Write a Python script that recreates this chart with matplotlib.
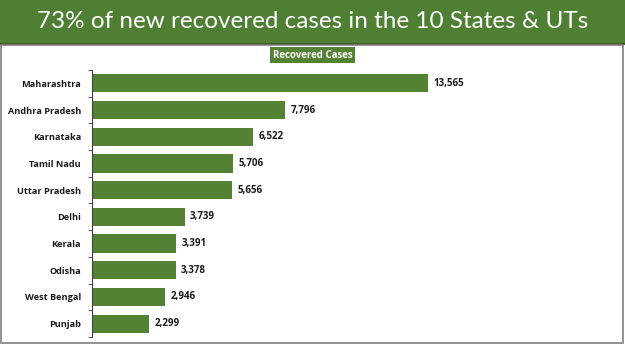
import numpy as np
import matplotlib.pyplot as plt
from matplotlib.patches import Rectangle

states = ["Maharashtra", "Andhra Pradesh", "Karnataka", "Tamil Nadu", "Uttar Pradesh",
          "Delhi", "Kerala", "Odisha", "West Bengal", "Punjab"]
recovered = [13565, 7796, 6522, 5706, 5656, 3739, 3391, 3378, 2946, 2299]

title = "73% of new recovered cases in the 10 States & UTs"
series_name = "Recovered Cases"

green = "#548235"
W, H = 625, 351
lbl_font = "Open Sans"

fig = plt.figure(figsize=(W / 100, H / 100), dpi=100)
fig.patch.set_facecolor("white")

# title banner
fig.patches.append(Rectangle((0, 1 - 43 / H), 1, 43 / H, transform=fig.transFigure,
                             facecolor="#4f7f32", edgecolor="none", zorder=0))
fig.patches.append(Rectangle((0, 1 - 45 / H), 1, 2 / H, transform=fig.transFigure,
                             facecolor="#3e5a22", edgecolor="none", zorder=0))
fig.text(0.5, 1 - 21 / H, title, ha="center", va="center", color="white",
         fontsize=17.5, family="Lato")

# panel border
fig.patches.append(Rectangle((1.5 / W, 8 / H), (W - 4) / W, (H - 53) / H,
                             transform=fig.transFigure, facecolor="none",
                             edgecolor="#7f7f7f", linewidth=1.2, zorder=0))

# series label
fig.text(0.5, 1 - 55 / H, series_name, ha="center", va="center", color="white",
         fontsize=7, fontweight="bold", family=lbl_font,
         bbox=dict(boxstyle="square,pad=0.3", facecolor=green, edgecolor="none"))

ax = fig.add_axes([92 / W, 1 - 337 / H, (587 - 92) / W, (337 - 70) / H])
y = np.arange(len(states))
ax.barh(y, recovered, height=0.68, color=green)
ax.set_ylim(len(states) - 0.5, -0.5)
ax.set_xlim(0, 20000)

for yi, v in zip(y, recovered):
    ax.text(v + 220, yi, f"{v:,}", va="center", ha="left", fontsize=7,
            fontweight="bold", family=lbl_font, color="#1a1a1a")

ax.set_yticks(y)
ax.set_yticklabels(states, fontsize=6.6, fontweight="bold", family=lbl_font, color="#1a1a1a")
ax.set_yticks(np.arange(len(states) + 1) - 0.5, minor=True)
ax.tick_params(axis="y", which="major", length=0, pad=8)
ax.tick_params(axis="y", which="minor", length=3, color="#404040")
ax.set_xticks([])
for s in ["top", "right", "bottom"]:
    ax.spines[s].set_visible(False)
ax.spines["left"].set_color("#404040")

fig.savefig("out.png", dpi=100)
